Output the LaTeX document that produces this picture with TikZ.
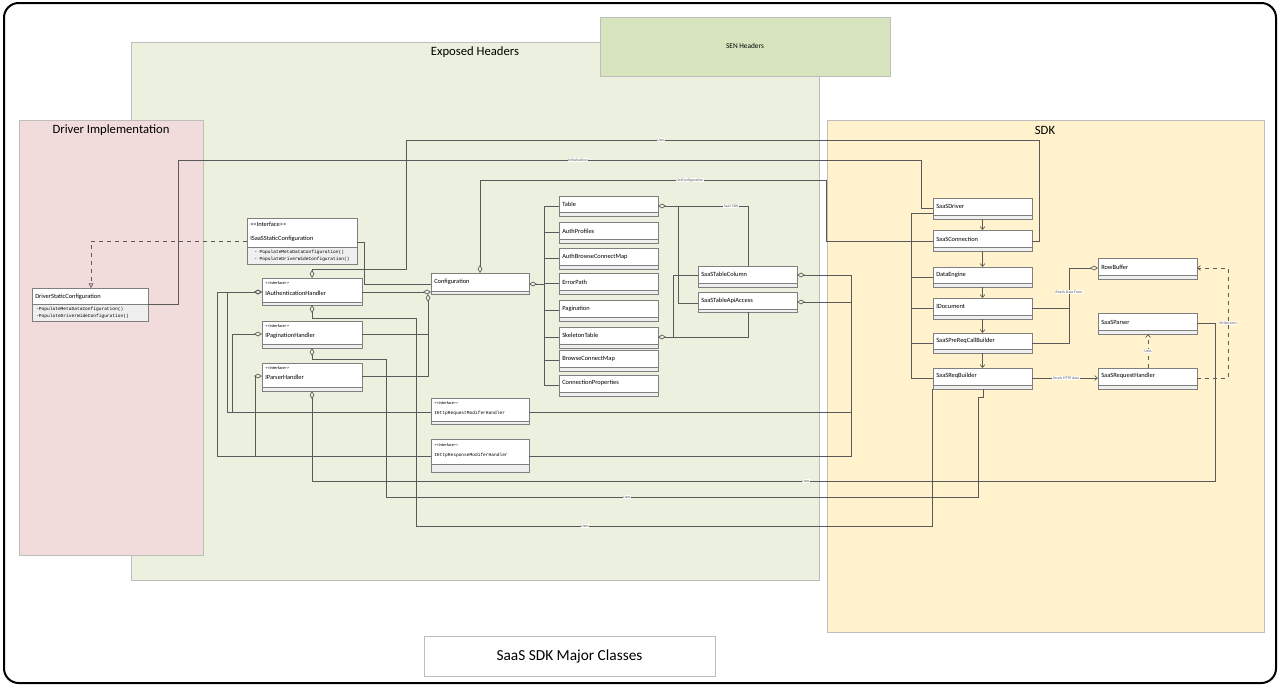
\documentclass[tikz,border=0pt]{standalone}
\usepackage{fontspec}
\setmainfont{Carlito}
\newfontfamily\monof{Liberation Mono}
\usetikzlibrary{arrows.meta}
\definecolor{grnfill}{HTML}{EBF1DE}
\definecolor{senfill}{HTML}{D7E4BD}
\definecolor{pinkfill}{HTML}{F2DCDB}
\definecolor{yelfill}{HTML}{FFF2CC}
\definecolor{regedge}{HTML}{BDBDBD}
\definecolor{lnc}{HTML}{5A5A5A}
\definecolor{boxedge}{HTML}{7F7F7F}
\definecolor{compc}{HTML}{EFEFEF}
\newcommand\stereo{<\kern0pt<Interface>\kern0pt>}
\tikzset{
  region/.style={draw=regedge, line width=0.6pt, anchor=north west, inner sep=0pt, outer sep=0pt},
  clsbox/.style={draw=boxedge, fill=white, line width=0.6pt, anchor=north west, inner sep=0pt, outer sep=0pt},
  conn/.style={draw=lnc, line width=0.5pt},
  agg/.style={-{Diamond[open,length=6pt,width=3.6pt]}},
  nav/.style={-{Straight Barb[length=2.2pt,width=3.6pt]}},
  real/.style={-{Triangle[open,length=3.5pt,width=3.6pt]}},
  lbl/.style={fill=white, inner sep=0.4pt, font=\fontsize{2.9}{3}\selectfont, text=lnc},
  nm/.style={anchor=west, inner sep=0pt, font=\fontsize{4.8}{5}\selectfont},
  stt/.style={anchor=west, inner sep=0pt, font=\fontsize{3.2}{4}\selectfont},
  mt/.style={anchor=west, inner sep=0pt, font=\monof\fontsize{3.4}{4}\selectfont},
  ttl/.style={inner sep=0pt, font=\fontsize{9.5}{11}\selectfont},
}
\newcommand\umlbox[6]{%
  \node[clsbox, minimum width={(#4-#2)*0.75pt}, minimum height={(#5-#3)*0.75pt}] (#1) at (#2,#3) {};
  \fill[compc] (#2,#6) rectangle (#4,#5);
  \draw[boxedge, line width=0.6pt] (#2,#6) -- (#4,#6);
  \draw[boxedge, line width=0.6pt] (#2,#3) rectangle (#4,#5);
}
\begin{document}
\begin{tikzpicture}[x=0.75pt, y=-0.75pt]
\useasboundingbox (0,0) rectangle (1280,686);
\fill[white] (0,0) rectangle (1280,686);
\draw[line width=1.5pt, rounded corners=11pt] (4,3) rectangle (1276,683);

% regions
\node[region, fill=grnfill, minimum width={688*0.75pt}, minimum height={538*0.75pt}] (exph) at (131,42) {};
\node[ttl] (exph-t) at (475,52) {Exposed Headers};
\node[region, fill=senfill, minimum width={290*0.75pt}, minimum height={59*0.75pt}] (senh) at (600,17) {};
\node[inner sep=0pt, font=\fontsize{5.5}{6}\selectfont] (senh-t) at (745,46) {SEN Headers};
\node[region, fill=pinkfill, minimum width={184*0.75pt}, minimum height={435*0.75pt}] (drv) at (19,120) {};
\node[ttl] (drv-t) at (111,130) {Driver Implementation};
\node[region, fill=yelfill, minimum width={437*0.75pt}, minimum height={512*0.75pt}] (sdk) at (827,120) {};
\node[ttl] (sdk-t) at (1045,130) {SDK};

% junction coordinates
\coordinate (cbus) at (544,284);
\coordinate (jpg) at (428,334);
\coordinate (jb1) at (911,277);
\coordinate (jb2) at (911,308);
\coordinate (jb3) at (911,343);

% classes
\umlbox{DSC}{32}{288}{148}{321}{304}
\umlbox{ISS}{247}{218}{357}{264}{247}
\umlbox{IAH}{262}{278}{362}{305}{302}
\umlbox{IPgH}{262}{321}{362}{348}{344}
\umlbox{IPH}{262}{363}{362}{391}{387}
\umlbox{IHQ}{431}{398}{529}{424}{421}
\umlbox{IHR}{431}{439}{529}{472}{464}
\umlbox{CFG}{431}{273}{529}{294}{291}
\umlbox{Tab}{559}{196}{658}{216}{212}
\umlbox{APr}{559}{222}{658}{243}{239}
\umlbox{ABC}{559}{248}{658}{269}{265}
\umlbox{EPa}{559}{273}{658}{294}{290}
\umlbox{Pag}{559}{300}{658}{321}{317}
\umlbox{Skel}{559}{327}{658}{348}{344}
\umlbox{BCM}{559}{350}{658}{371}{367}
\umlbox{CPr}{559}{375}{658}{396}{392}
\umlbox{STC}{698}{266}{797}{287}{283}
\umlbox{STA}{698}{292}{797}{312}{309}
\umlbox{SDr}{933}{198}{1032}{219}{215}
\umlbox{SCo}{933}{230}{1032}{251}{247}
\umlbox{DEn}{933}{267}{1032}{287}{283}
\umlbox{IDo}{933}{298}{1032}{319}{315}
\umlbox{SPR}{933}{333}{1032}{353}{349}
\umlbox{SRB}{933}{368}{1032}{389}{385}
\umlbox{RBu}{1098}{258}{1197}{279}{275}
\umlbox{SPa}{1098}{313}{1197}{334}{330}
\umlbox{SRH}{1098}{368}{1197}{389}{385}

% connectors
\draw[conn, dashed, real] (ISS.west |- 0,241) -| (DSC.north -| 91,0);
\draw[conn] (DSC.east |- 0,304) -| (178,160) -| (921,208) -- (SDr.west |- 0,208);
\node[lbl] (l-init) at (578,160) {Initialization};
\draw[conn, agg] (SCo.east |- 0,241) -| (1039,140) -| (406,269) -| (IAH.north -| 312,0);
\node[lbl] (l-uses1) at (661,140) {Uses};
\draw[conn, agg] (SCo.west |- 0,241) -| (826,180) -| (CFG.north -| 480,0);
\node[lbl] (l-getc) at (690,180) {GetConfiguration};
\draw[conn] (ISS.east |- 0,242) -| (364,284) -- (CFG.west |- 0,284);
\draw[conn, agg] (IAH.east |- 0,292) -- (CFG.west |- 0,292);
\draw[conn, agg] (IPH.east |- 0,376) -| (CFG.south -| 428,0);
\draw[conn] (IPgH.east |- 0,334) -- (jpg);
\draw[conn, agg] (cbus) -- (CFG.east |- 0,284);
\draw[conn] (Tab.west) -| (CPr.west -| 544,0) -- (CPr.west);
\foreach \b in {APr,ABC,EPa,Pag,Skel,BCM} \draw[conn] (\b.west) -- (\b.west -| 544,0);
\draw[conn, agg] (STC.north -| 748,0) |- (Tab.east |- 0,206);
\node[lbl] (l-sdk) at (731,206) {SaaS SDK};
\draw[conn] (STA.west |- 0,303) -| (678,206);
\draw[conn, agg] (STA.south -| 748,0) |- (Skel.east |- 0,337);
\draw[conn] (STC.west |- 0,275) -| (673,337);
\draw[conn, agg] (IHR.east |- 0,456) -| (851,275) -- (STC.east |- 0,275);
\draw[conn, agg] (IHQ.east |- 0,412) -| (851,302) -- (STA.east |- 0,302);
\draw[conn, agg] (IHQ.west |- 0,412) -| (227,292) -- (IAH.west |- 0,292);
\draw[conn, agg] (IHQ.west |- 0,412) -| (232,334) -- (IPgH.west |- 0,334);
\draw[conn, agg] (IHR.west |- 0,456) -| (217,292) -- (IAH.west |- 0,292);
\draw[conn, agg] (IHR.west |- 0,456) -| (255,376) -- (IPH.west |- 0,376);
\draw[conn, agg] (SRB.south -| 932,0) -- (932,526) -| (416,318) -| (IAH.south -| 312,0);
\node[lbl] (l-uses2) at (585,526) {Uses};
\draw[conn, agg] (SRB.south -| 983,0) -- (983,397) -| (978,497) -| (386,359) -| (IPgH.south -| 312,0);
\node[lbl] (l-uses3) at (627,497) {Uses};
\draw[conn, agg] (SPa.east |- 0,323) -| (1215,481) -| (IPH.south -| 312,0);
\node[lbl] (l-uses4) at (806,481) {Uses};
\draw[conn] (SDr.west |- 0,213) -| (911,378) -- (SRB.west |- 0,378);
\draw[conn] (jb1) -- (DEn.west |- 0,277);
\draw[conn] (jb2) -- (IDo.west |- 0,308);
\draw[conn] (jb3) -- (SPR.west |- 0,343);
\draw[conn, nav] (SDr) -- (SCo);
\draw[conn, nav] (SCo) -- (DEn);
\draw[conn, nav] (DEn) -- (IDo);
\draw[conn, nav] (IDo) -- (SPR);
\draw[conn, nav] (SPR) -- (SRB);
\draw[conn, agg] (IDo.east |- 0,308) -| (1069,268) -- (RBu.west |- 0,268);
\draw[conn] (SPR.east |- 0,343) -| (1069,308);
\node[lbl] (l-reads) at (1069,292) {Reads Data From};
\draw[conn, nav] (SRB.east |- 0,378) -- (SRH.west |- 0,378);
\node[lbl] (l-sends) at (1066,378) {Sends HTTP data};
\draw[conn, dashed, nav] (SRH.north -| 1148,0) -- (SPa.south -| 1148,0);
\node[lbl] (l-uses5) at (1148,351) {Uses};
\draw[conn, dashed, nav] (SRH.east |- 0,378) -| (1228,268) -- (RBu.east |- 0,268);
\node[lbl] (l-writes) at (1228,323) {Writes Into};

% class texts
\node[nm] (DSC-n) at (35,297) {DriverStaticConfiguration};
\node[mt] (DSC-m1) at (36,309) {-PopulateMetaDataConfiguration()};
\node[mt] (DSC-m2) at (36,316) {-PopulateDriverWideConfiguration()};
\node[nm] (ISS-s) at (250,224) {\stereo};
\node[nm] (ISS-n) at (250,239) {ISaaSStaticConfiguration};
\node[mt] (ISS-m1) at (254,252) {- PopulateMetaDataConfiguration()};
\node[mt] (ISS-m2) at (254,259) {- PopulateDriverWideConfiguration()};
\node[stt] (IAH-s) at (265,283) {\stereo};
\node[nm] (IAH-n) at (265,293) {IAuthenticationHandler};
\node[stt] (IPgH-s) at (265,326) {\stereo};
\node[nm] (IPgH-n) at (265,336) {IPaginationHandler};
\node[stt] (IPH-s) at (265,368) {\stereo};
\node[nm] (IPH-n) at (265,377) {IParserHandler};
\node[stt] (IHQ-s) at (434,403) {\stereo};
\node[mt] (IHQ-n) at (434,413) {IHttpRequestModiferHandler};
\node[stt] (IHR-s) at (434,445) {\stereo};
\node[mt] (IHR-n) at (434,455) {IHttpResponseModiferHandler};
\node[nm] (CFG-n) at (434,282) {Configuration};
\node[nm] (Tab-n) at (562,204) {Table};
\node[nm] (APr-n) at (562,231) {AuthProfiles};
\node[nm] (ABC-n) at (562,257) {AuthBrowseConnectMap};
\node[nm] (EPa-n) at (562,282) {ErrorPath};
\node[nm] (Pag-n) at (562,309) {Pagination};
\node[nm] (Skel-n) at (562,335) {SkeletonTable};
\node[nm] (BCM-n) at (562,359) {BrowseConnectMap};
\node[nm] (CPr-n) at (562,383) {ConnectionProperties};
\node[nm] (STC-n) at (701,274) {SaaSTableColumn};
\node[nm] (STA-n) at (701,301) {SaaSTableApiAccess};
\node[nm] (SDr-n) at (936,206) {SaaSDriver};
\node[nm] (SCo-n) at (936,239) {SaaSConnection};
\node[nm] (DEn-n) at (936,275) {DataEngine};
\node[nm] (IDo-n) at (936,306) {IDocument};
\node[nm] (SPR-n) at (936,341) {SaaSPreReqCallBuilder};
\node[nm] (SRB-n) at (936,376) {SaaSReqBuilder};
\node[nm] (RBu-n) at (1101,267) {RowBuffer};
\node[nm] (SPa-n) at (1101,322) {SaaSParser};
\node[nm] (SRH-n) at (1101,376) {SaaSRequestHandler};

% caption
\node[draw=regedge, fill=white, line width=0.5pt, minimum width={291*0.75pt}, minimum height={40*0.75pt}, inner sep=0pt, font=\fontsize{11.5}{13}\selectfont] (cap) at (569.5,656) {SaaS SDK Major Classes};
\end{tikzpicture}
\end{document}
